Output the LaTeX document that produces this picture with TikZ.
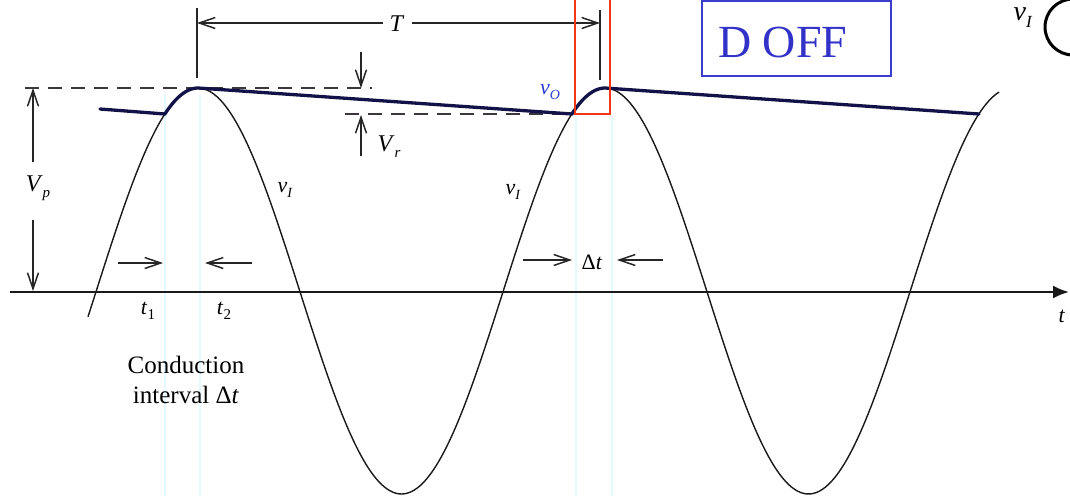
\documentclass[tikz,border=0pt]{standalone}
\usepackage{fontspec}
\setmainfont{Liberation Serif}
\usetikzlibrary{arrows.meta}
\definecolor{envc}{RGB}{18,18,72}
\definecolor{boxblue}{RGB}{60,60,205}
\definecolor{txtblue}{RGB}{50,50,200}
\definecolor{vblue}{RGB}{40,60,205}
\definecolor{redbox}{RGB}{240,55,25}
\definecolor{guide}{RGB}{228,250,255}
\definecolor{dashc}{RGB}{60,55,60}
\newcommand\sublab[4]{{\fontsize{#1}{#1}\selectfont\textit{#3}\raisebox{-0.25em}{\fontsize{#2}{#2}\selectfont #4}}}
\begin{document}
\begin{tikzpicture}[x=1pt,y=-1pt,
  dimarrow/.style={line width=1.3pt, black!85, -{Straight Barb[length=16pt,width=11pt,line width=1.5pt]}},
  tickline/.style={line width=1.4pt, black!85},
  sineline/.style={line width=1.4pt, black!90},
  envline/.style={line width=3.3pt, envc, line join=round, line cap=round},
  dashline/.style={line width=1.6pt, dashc, dash pattern=on 14pt off 9pt},
  axisline/.style={line width=2pt, black!90, -{Latex[length=16pt,width=13pt]}},
  guideline/.style={line width=2pt, guide},
  lbl/.style={inner sep=0pt}]
\useasboundingbox (0,0) rectangle (1070,496);
% faint guides
\draw[guideline] (165,95) -- (165,496);
\draw[guideline] (200,95) -- (200,496);
\draw[guideline] (576,116) -- (576,496);
\draw[guideline] (612,116) -- (612,496);
% axis
\coordinate (ax0) at (10,292);
\coordinate (ax1) at (1069,292);
\draw[axisline] (ax0) -- (ax1);
% sine
\draw[sineline] plot[domain=88:999,samples=300,smooth] (\x,{291-203*cos((\x-198)/407*360)});
% dashed reference lines
\coordinate (d1a) at (25,88); \coordinate (d1b) at (372,88);
\coordinate (d2a) at (345,114); \coordinate (d2b) at (560,114);
\draw[dashline] (d1a) -- (d1b);
\draw[dashline] (d2a) -- (d2b);
% output envelope
\draw[envline] (100,109) -- (165,114)
  -- plot[domain=165:198,samples=14,smooth] (\x,{291-203*cos((\x-198)/407*360)})
  -- (572,114)
  -- plot[domain=572:605,samples=14,smooth] (\x,{291-203*cos((\x-198)/407*360)})
  -- (979,114);
% T dimension
\coordinate (Tl1) at (197,8); \coordinate (Tl2) at (197,78);
\coordinate (Tr1) at (600,10); \coordinate (Tr2) at (600,80);
\draw[tickline] (Tl1) -- (Tl2);
\draw[tickline] (Tr1) -- (Tr2);
\node[lbl] (T) at (397,24) {\fontsize{24}{24}\selectfont\textit{T}};
\coordinate (Tal) at (197,23); \coordinate (Tar) at (600,23);
\coordinate (Ts1) at (383,23); \coordinate (Ts2) at (412,23);
\draw[dimarrow] (Ts1) -- (Tal);
\draw[dimarrow] (Ts2) -- (Tar);
% Vp
\node[lbl] (Vp) at (38,188) {\sublab{24}{15}{V}{\textit{p}}};
\coordinate (vpt) at (33,88); \coordinate (vpb) at (33,291);
\coordinate (vps1) at (33,162); \coordinate (vps2) at (33,220);
\draw[dimarrow] (vps1) -- (vpt);
\draw[dimarrow] (vps2) -- (vpb);
% Vr
\node[lbl] (Vr) at (389,147) {\sublab{24}{15}{V}{\textit{r}}};
\coordinate (vrt) at (361,88); \coordinate (vrb) at (361,115);
\coordinate (vrs1) at (361,52); \coordinate (vrs2) at (361,156);
\draw[dimarrow] (vrs1) -- (vrt);
\draw[dimarrow] (vrs2) -- (vrb);
% labels vI, vO
\node[lbl] (vI1) at (285,190) {\sublab{22}{14}{v}{\textit{I}}};
\node[lbl] (vI2) at (513,192) {\sublab{22}{14}{v}{\textit{I}}};
\node[lbl, text=vblue] (vO) at (550,92) {\sublab{22}{14}{v}{\textit{O}}};
% t1, t2
\node[lbl] (t1) at (148,311) {\sublab{22}{15}{t}{1}};
\node[lbl] (t2) at (224,311) {\sublab{22}{15}{t}{2}};
\coordinate (t1a) at (118,263); \coordinate (t1b) at (163,263);
\coordinate (t2a) at (252,263); \coordinate (t2b) at (205,263);
\draw[dimarrow] (t1a) -- (t1b);
\draw[dimarrow] (t2a) -- (t2b);
% Delta t
\node[lbl] (dt) at (592,262) {\fontsize{22}{22}\selectfont Δ\textit{t}};
\coordinate (dta) at (523,260); \coordinate (dtb) at (572,260);
\coordinate (dtc) at (663,260); \coordinate (dtd) at (617,260);
\draw[dimarrow] (dta) -- (dtb);
\draw[dimarrow] (dtc) -- (dtd);
% conduction interval
\node[lbl, align=center, font=\fontsize{25}{30}\selectfont] (cond) at (186,380) {Conduction\\interval Δ\textit{t}};
% red box
\coordinate (rb1) at (575,-5); \coordinate (rb2) at (610,114);
\draw[redbox, line width=2pt] (rb1) rectangle (rb2);
% D OFF box
\coordinate (db1) at (702,1); \coordinate (db2) at (891,76);
\draw[boxblue, line width=1.6pt] (db1) rectangle (db2);
\node[lbl, anchor=base west, text=txtblue] (doff) at (718,57) {\fontsize{46}{46}\selectfont D OFF};
% top-right source
\node[lbl] (vI3) at (1023,18) {\sublab{28}{17}{v}{\textit{I}}};
\coordinate (src) at (1073,27);
\draw[line width=3pt, black] (src) circle[radius=28];
% t label at right edge
\node[lbl] (tax) at (1062,316) {\fontsize{22}{22}\selectfont\textit{t}};
\end{tikzpicture}
\end{document}
